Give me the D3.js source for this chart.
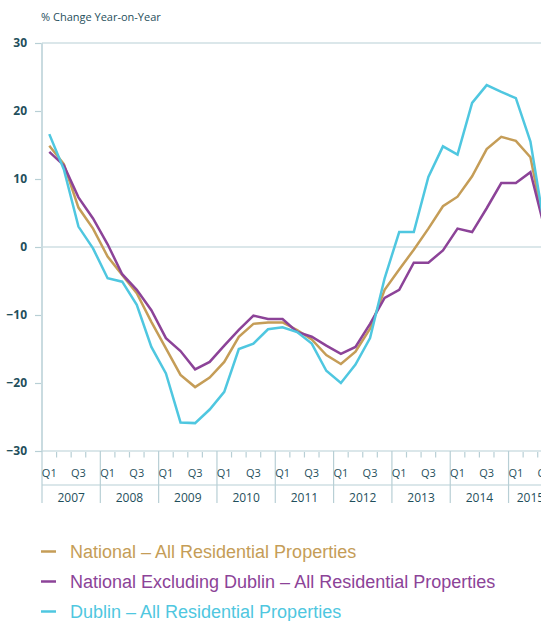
<!DOCTYPE html>
<html lang="en">
  <head>
    <meta charset="utf-8">
    <title>House prices - % change year-on-year</title>
    <style>
      body { margin: 0; background: #fff; }
      svg { display: block; }
    </style>
  </head>
  <body>
    <div id="chart"></div>
    <script src="https://d3js.org/d3.v7.min.js"></script>
    <script>
      // quarters 2007 Q1 .. 2015 Q3 (chart is cropped on the right)
      var years = ["2007", "2008", "2009", "2010", "2011", "2012", "2013", "2014", "2015"]
      var quarterLabels = ["Q1", "", "Q3", ""]
      var yTicks = [30, 20, 10, 0, -10, -20, -30]

      var national = [
        14.9, 12.2, 5.8, 2.7,
        -1.4, -4.1, -6.8, -11.0,
        -14.9, -18.8, -20.6, -19.2,
        -16.9, -13.2, -11.3, -11.1,
        -11.1, -12.2, -13.6, -15.9,
        -17.2, -15.4, -12.0, -6.3,
        -3.3, -0.4, 2.7, 6.0,
        7.4, 10.4, 14.4, 16.2,
        15.6, 13.2, 2.5
      ]
      var exDublin = [
        14.0, 12.0, 7.3, 4.2,
        0.4, -4.0, -6.3, -9.3,
        -13.4, -15.3, -18.0, -16.9,
        -14.5, -12.2, -10.1, -10.6,
        -10.6, -12.5, -13.2, -14.5,
        -15.7, -14.7, -11.3, -7.5,
        -6.3, -2.3, -2.3, -0.5,
        2.7, 2.2, 5.7, 9.4,
        9.4, 11.0, 2.5
      ]
      var dublin = [
        16.6, 11.4, 3.0, -0.2,
        -4.6, -5.1, -8.5, -14.7,
        -18.6, -25.8, -25.9, -23.9,
        -21.3, -15.0, -14.2, -12.1,
        -11.8, -12.5, -14.2, -18.2,
        -20.0, -17.3, -13.4, -4.6,
        2.2, 2.2, 10.3, 14.8,
        13.6, 21.2, 23.8, 22.8,
        21.9, 15.5, 2.5
      ]

      var seriesNames = [
        "National – All Residential Properties",
        "National Excluding Dublin – All Residential Properties",
        "Dublin – All Residential Properties"
      ]
      var series = [national, exDublin, dublin]
      var colors = ["#c59d57", "#8c4398", "#4fc7e0"]

      var width = 541, height = 621
      var axisColor = "#b8cfd5", textColor = "#1f4f5c"

      var svg = d3.select("#chart").append("svg")
        .attr("width", width)
        .attr("height", height)

      var nQ = national.length
      var x = d3.scaleLinear().domain([0, nQ]).range([42, 42 + nQ * 14.58])
      var y = d3.scaleLinear().domain([-30, 30]).range([451, 43])

      // title
      svg.append("text")
        .attr("x", 41)
        .attr("y", 21)
        .attr("font-family", "Open Sans")
        .attr("font-size", 11)
        .attr("fill", textColor)
        .text("% Change Year-on-Year")

      // y axis: ticks + labels, gridlines at 30, 0, -30
      var yAxis = svg.append("g")
        .attr("transform", "translate(42,0)")
        .call(d3.axisLeft(y).tickValues(yTicks).tickSize(7).tickPadding(8).tickFormat(d3.format("d")))
      yAxis.select(".domain").remove()
      yAxis.selectAll("line").attr("stroke", axisColor).attr("stroke-width", 1.2)
      yAxis.selectAll("text")
        .attr("font-family", "Open Sans")
        .attr("font-size", 12)
        .attr("font-weight", "bold")
        .attr("fill", textColor)

      svg.selectAll(".grid")
        .data([30, 0, -30])
        .enter().append("line")
        .attr("class", "grid")
        .attr("x1", 42).attr("x2", width)
        .attr("y1", function(d) { return y(d) })
        .attr("y2", function(d) { return y(d) })
        .attr("stroke", axisColor)
        .attr("stroke-width", 1.2)

      svg.append("line")
        .attr("x1", 42).attr("x2", 42)
        .attr("y1", y(30)).attr("y2", y(-30))
        .attr("stroke", "#c9dbe0")
        .attr("stroke-width", 2)

      // x axis: quarter ticks, quarter labels, year blocks
      var quarters = d3.range(nQ)
      svg.selectAll(".qtick")
        .data(quarters.filter(function(i) { return i % 4 != 0 }))
        .enter().append("line")
        .attr("x1", function(i) { return x(i) })
        .attr("x2", function(i) { return x(i) })
        .attr("y1", 452).attr("y2", 457.5)
        .attr("stroke", axisColor)
        .attr("stroke-width", 1.2)

      svg.selectAll(".ytick")
        .data(d3.range(years.length))
        .enter().append("line")
        .attr("x1", function(i) { return x(i * 4) })
        .attr("x2", function(i) { return x(i * 4) })
        .attr("y1", 451).attr("y2", 503)
        .attr("stroke", axisColor)
        .attr("stroke-width", 1.2)

      svg.append("line")
        .attr("x1", 42).attr("x2", width)
        .attr("y1", 485).attr("y2", 485)
        .attr("stroke", axisColor)
        .attr("stroke-width", 1.2)

      svg.selectAll(".qlabel")
        .data(quarters.filter(function(i) { return quarterLabels[i % 4] != "" }))
        .enter().append("text")
        .attr("x", function(i) { return x(i + 0.5) })
        .attr("y", 476.5)
        .attr("text-anchor", "middle")
        .attr("font-family", "Open Sans")
        .attr("font-size", 11)
        .attr("fill", textColor)
        .text(function(i) { return quarterLabels[i % 4] })

      // year label centred on the quarters that year has in the data
      svg.selectAll(".year")
        .data(years)
        .enter().append("text")
        .attr("x", function(d, i) {
          var q = Math.min(4, nQ - i * 4)
          return x(i * 4 + q / 2)
        })
        .attr("y", 502)
        .attr("text-anchor", "middle")
        .attr("font-family", "Open Sans")
        .attr("font-size", 12)
        .attr("fill", textColor)
        .text(function(d) { return d })

      // lines
      var line = d3.line()
        .x(function(d, i) { return x(i + 0.5) })
        .y(function(d) { return y(d) })

      svg.selectAll(".series")
        .data(series)
        .enter().append("path")
        .attr("d", line)
        .attr("fill", "none")
        .attr("stroke", function(d, i) { return colors[i] })
        .attr("stroke-width", 2.5)
        .attr("stroke-linejoin", "miter")

      // legend
      var legend = svg.selectAll(".legend")
        .data(seriesNames)
        .enter().append("g")
        .attr("transform", function(d, i) { return "translate(41," + (551.5 + i * 30) + ")" })
      legend.append("line")
        .attr("x1", 0).attr("x2", 15)
        .attr("stroke", function(d, i) { return colors[i] })
        .attr("stroke-width", 2.5)
      legend.append("text")
        .attr("x", 29)
        .attr("y", 6)
        .attr("font-family", "Liberation Sans")
        .attr("font-size", 18)
        .attr("fill", function(d, i) { return colors[i] })
        .text(function(d) { return d })
    </script>
</html>
